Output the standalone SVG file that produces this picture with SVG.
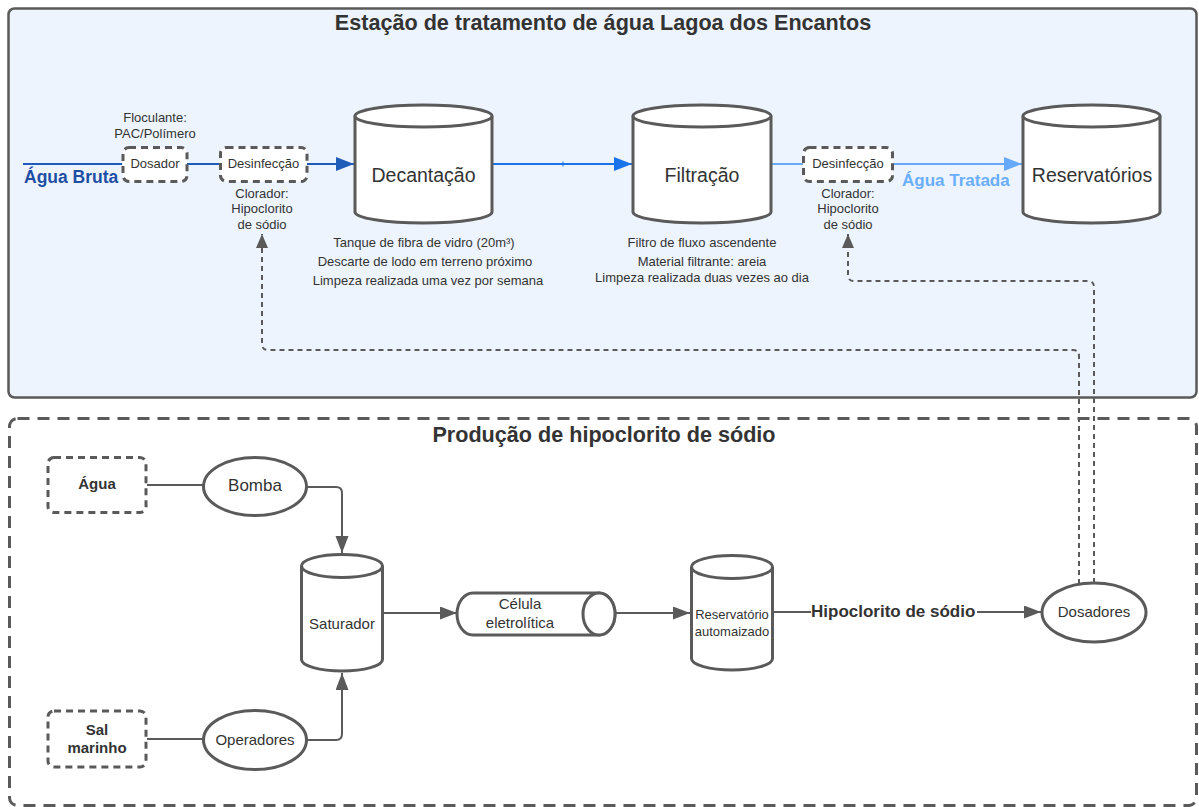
<svg xmlns="http://www.w3.org/2000/svg" width="1199" height="807" viewBox="0 0 1199 807">
  <style>
    text { font-family: "Liberation Sans", Arial, sans-serif; fill: #333333; }
    .title { font-size: 21.6px; font-weight: bold; text-anchor: middle; }
    .c { text-anchor: middle; }
    .note { font-size: 13px; text-anchor: middle; }
    .shape { fill: #ffffff; stroke: #5a5a5a; stroke-width: 3; }
    .dbox { fill: #ffffff; stroke: #5a5a5a; stroke-width: 3; stroke-dasharray: 7 5; }
    .line { fill: none; stroke: #5a5a5a; stroke-width: 2; }
    .dash { fill: none; stroke: #5a5a5a; stroke-width: 2; stroke-dasharray: 5 4; }
    .bold { font-weight: bold; }
  </style>
  <defs>
    <marker id="ahGray" markerUnits="userSpaceOnUse" markerWidth="18" markerHeight="14" refX="17" refY="6.5" orient="auto">
      <path d="M0,0 L17,6.5 L0,13 Z" fill="#5a5a5a"/>
    </marker>
    <marker id="ahGraySm" markerUnits="userSpaceOnUse" markerWidth="15" markerHeight="13" refX="14" refY="6" orient="auto">
      <path d="M0,0 L14,6 L0,12 Z" fill="#5a5a5a"/>
    </marker>
    <marker id="ahDark" markerUnits="userSpaceOnUse" markerWidth="19" markerHeight="15" refX="18" refY="7" orient="auto">
      <path d="M0,0 L18,7 L0,14 Z" fill="#1f5bb8"/>
    </marker>
    <marker id="ahMid" markerUnits="userSpaceOnUse" markerWidth="19" markerHeight="15" refX="18" refY="7" orient="auto">
      <path d="M0,0 L18,7 L0,14 Z" fill="#1a73e8"/>
    </marker>
    <marker id="ahLight" markerUnits="userSpaceOnUse" markerWidth="19" markerHeight="15" refX="18" refY="7" orient="auto">
      <path d="M0,0 L18,7 L0,14 Z" fill="#66a8fa"/>
    </marker>
  </defs>

  <!-- Treatment plant container -->
  <g id="plant">
    <rect x="8.5" y="8.5" width="1188" height="389" rx="6" fill="#edf4fe" stroke="#5a5a5a" stroke-width="2.5"/>
    <text class="title" x="603" y="30">Estação de tratamento de água Lagoa dos Encantos</text>
  </g>

  <!-- Hypochlorite production container -->
  <g id="production">
    <rect x="9.5" y="418.5" width="1187" height="387" rx="8" fill="none" stroke="#5a5a5a" stroke-width="3" stroke-dasharray="12 8"/>
    <text class="title" x="604" y="442">Produção de hipoclorito de sódio</text>
  </g>

  <!-- Connectors -->
  <g id="connectors">
    <!-- water line through the plant -->
    <line x1="23" y1="164" x2="122" y2="164" stroke="#1f5bb8" stroke-width="2"/>
    <line x1="187" y1="164" x2="220" y2="164" stroke="#1f5bb8" stroke-width="2"/>
    <line x1="307" y1="164" x2="354" y2="164" stroke="#1f5bb8" stroke-width="2" marker-end="url(#ahDark)"/>
    <line x1="492" y1="164" x2="632" y2="164" stroke="#1a73e8" stroke-width="2" marker-end="url(#ahMid)"/>
    <line x1="563" y1="161.5" x2="563" y2="166.5" stroke="#1a73e8" stroke-width="1"/>
    <line x1="771" y1="164" x2="803" y2="164" stroke="#6aa9f5" stroke-width="2"/>
    <line x1="893" y1="164" x2="1022" y2="164" stroke="#66a8fa" stroke-width="2" marker-end="url(#ahLight)"/>

    <!-- hypochlorite production line -->
    <line class="line" x1="147" y1="485" x2="203" y2="485"/>
    <path class="line" d="M307,487 H336 Q342,487 342,493 V553" marker-end="url(#ahGray)"/>
    <line class="line" x1="147" y1="739" x2="203" y2="739"/>
    <path class="line" d="M307,740 H336 Q342,740 342,734 V673" marker-end="url(#ahGray)"/>
    <line class="line" x1="382" y1="613" x2="457" y2="613" marker-end="url(#ahGray)"/>
    <line class="line" x1="615" y1="613" x2="690" y2="613" marker-end="url(#ahGray)"/>
    <line class="line" x1="772" y1="612" x2="811" y2="612"/>
    <line class="line" x1="977" y1="612" x2="1041" y2="612" marker-end="url(#ahGray)"/>

    <!-- dosing returns to the two disinfection points -->
    <path class="dash" d="M1079,584 V356 Q1079,350 1073,350 H268 Q262,350 262,344 V234" marker-end="url(#ahGraySm)"/>
    <path class="dash" d="M1094,583 V287 Q1094,281 1088,281 H854 Q848,281 848,275 V234" marker-end="url(#ahGraySm)"/>
  </g>

  <!-- Plant nodes -->
  <g id="agua-bruta">
    <text class="bold" x="24" y="183" font-size="17.5" style="fill:#1e4fa3">Água Bruta</text>
  </g>

  <g id="dosador">
    <rect class="dbox" x="123" y="147.5" width="64" height="34" rx="6"/>
    <text class="c" x="155" y="168" font-size="13">Dosador</text>
    <text class="note" x="155" y="122">Floculante:</text>
    <text class="note" x="155" y="138">PAC/Polímero</text>
  </g>

  <g id="desinfeccao-1">
    <rect class="dbox" x="220.5" y="147.5" width="86.5" height="34" rx="6"/>
    <text class="c" x="263.5" y="168" font-size="13">Desinfecção</text>
    <text class="note" x="262" y="198">Clorador:</text>
    <text class="note" x="262" y="213">Hipoclorito</text>
    <text class="note" x="262" y="229">de sódio</text>
  </g>

  <g id="decantacao">
    <path class="shape" d="M355,116 A68.5,11 0 0 1 492,116 V212 A68.5,11 0 0 1 355,212 Z"/>
    <path class="shape" d="M355,116 A68.5,11 0 0 0 492,116" fill="none"/>
    <text class="c" x="423.5" y="182" font-size="19.5">Decantação</text>
    <text class="note" x="424" y="247">Tanque de fibra de vidro (20m³)</text>
    <text class="note" x="425" y="266">Descarte de lodo em terreno próximo</text>
    <text class="note" x="428" y="285">Limpeza realizada uma vez por semana</text>
  </g>

  <g id="filtracao">
    <path class="shape" d="M633,116 A69,11 0 0 1 771,116 V212 A69,11 0 0 1 633,212 Z"/>
    <path class="shape" d="M633,116 A69,11 0 0 0 771,116" fill="none"/>
    <text class="c" x="702" y="182" font-size="19.5">Filtração</text>
    <text class="note" x="702" y="247">Filtro de fluxo ascendente</text>
    <text class="note" x="702" y="266">Material filtrante: areia</text>
    <text class="note" x="702" y="282">Limpeza realizada duas vezes ao dia</text>
  </g>

  <g id="desinfeccao-2">
    <rect class="dbox" x="803.5" y="147.5" width="89" height="34" rx="6"/>
    <text class="c" x="848" y="168" font-size="13">Desinfecção</text>
    <text class="note" x="848" y="198">Clorador:</text>
    <text class="note" x="848" y="213">Hipoclorito</text>
    <text class="note" x="848" y="229">de sódio</text>
  </g>

  <g id="agua-tratada">
    <text class="bold" x="902" y="186" font-size="17" style="fill:#6aaeff">Água Tratada</text>
  </g>

  <g id="reservatorios">
    <path class="shape" d="M1023,116 A68.5,11 0 0 1 1160,116 V212 A68.5,11 0 0 1 1023,212 Z"/>
    <path class="shape" d="M1023,116 A68.5,11 0 0 0 1160,116" fill="none"/>
    <text class="c" x="1092" y="182" font-size="19.5">Reservatórios</text>
  </g>

  <!-- Production nodes -->
  <g id="agua">
    <rect class="dbox" x="48" y="457.5" width="98" height="55" rx="6"/>
    <text class="c bold" x="97" y="489" font-size="15">Água</text>
  </g>

  <g id="bomba">
    <ellipse class="shape" cx="255" cy="486.5" rx="51.5" ry="29"/>
    <text class="c" x="255" y="491" font-size="17">Bomba</text>
  </g>

  <g id="sal-marinho">
    <rect class="dbox" x="48" y="711" width="98" height="56" rx="6"/>
    <text class="c bold" x="97" y="735" font-size="15">Sal</text>
    <text class="c bold" x="97" y="753" font-size="15">marinho</text>
  </g>

  <g id="operadores">
    <ellipse class="shape" cx="255" cy="740" rx="51.5" ry="29.5"/>
    <text class="c" x="255" y="745" font-size="15">Operadores</text>
  </g>

  <g id="saturador">
    <path class="shape" d="M301.5,566 A40.5,11.5 0 0 1 382.5,566 V659.5 A40.5,11.5 0 0 1 301.5,659.5 Z"/>
    <path class="shape" d="M301.5,566 A40.5,11.5 0 0 0 382.5,566" fill="none"/>
    <text class="c" x="342" y="629" font-size="15">Saturador</text>
  </g>

  <g id="celula">
    <path class="shape" d="M473,593 H599 A16,21 0 0 1 599,635 H473 A16,21 0 0 1 473,593 Z"/>
    <ellipse class="shape" cx="599" cy="614" rx="16" ry="21" fill="none"/>
    <text class="c" x="520" y="609" font-size="15">Célula</text>
    <text class="c" x="520" y="628" font-size="15">eletrolítica</text>
  </g>

  <g id="reservatorio-automaizado">
    <path class="shape" d="M691.5,567 A40.5,11.5 0 0 1 772.5,567 V658.5 A40.5,11.5 0 0 1 691.5,658.5 Z"/>
    <path class="shape" d="M691.5,567 A40.5,11.5 0 0 0 772.5,567" fill="none"/>
    <text class="c" x="732" y="619" font-size="13">Reservatório</text>
    <text class="c" x="732" y="636" font-size="13">automaizado</text>
  </g>

  <g id="hipoclorito-label">
    <text class="bold" x="811" y="617" font-size="17">Hipoclorito de sódio</text>
  </g>

  <g id="dosadores">
    <ellipse class="shape" cx="1094" cy="612.5" rx="52" ry="29.5"/>
    <text class="c" x="1094" y="617" font-size="15">Dosadores</text>
  </g>
</svg>
